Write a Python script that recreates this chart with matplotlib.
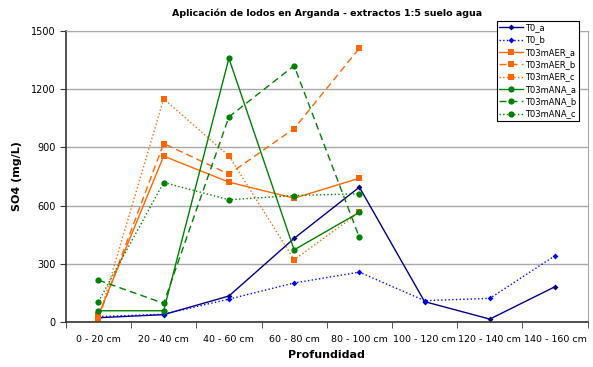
import numpy as np
import matplotlib.pyplot as plt

profundidad = ["0 - 20 cm", "20 - 40 cm", "40 - 60 cm", "60 - 80 cm",
               "80 - 100 cm", "100 - 120 cm", "120 - 140 cm", "140 - 160 cm"]

t0_a = [22, 38, 134, 431, 695, 105, 15, 182]
t0_b = [28, 40, 118, 201, 257, 110, 122, 342]
aer_a = [35, 855, 721, 638, 741]
aer_b = [22, 920, 762, 997, 1411]
aer_c = [15, 1150, 856, 321, 565]
ana_a = [58, 58, 1359, 372, 565]
ana_b = [216, 96, 1057, 1321, 436]
ana_c = [105, 719, 630, 652, 661]

navy = "#000080"
blue = "#0000ff"
orange = "#ff6600"
green = "#008000"

fig = plt.figure(figsize=(5.93, 3.67), dpi=100)
ax = fig.add_axes([0.111, 0.1226, 0.88, 0.793])

x = np.arange(len(profundidad))
x5 = x[:5]

series = [
    (t0_a, x, navy, "-", "D", 3, "T0_a"),
    (t0_b, x, blue, ":", "D", 3, "T0_b"),
    (aer_a, x5, orange, "-", "s", 4.5, "T03mAER_a"),
    (aer_b, x5, orange, (0, (5, 3)), "s", 4.5, "T03mAER_b"),
    (aer_c, x5, orange, ":", "s", 4.5, "T03mAER_c"),
    (ana_a, x5, green, "-", "o", 4.5, "T03mANA_a"),
    (ana_b, x5, green, (0, (5, 3)), "o", 4.5, "T03mANA_b"),
    (ana_c, x5, green, ":", "o", 4.5, "T03mANA_c"),
]
for vals, xs, col, ls, mk, ms, lab in series:
    ax.plot(xs, vals, color=col, linestyle=ls, linewidth=1, marker=mk,
            markersize=ms, markeredgewidth=0, label=lab)

ax.set_xlim(-0.5, 7.5)
ax.set_ylim(0, 1500)
ax.set_yticks(np.arange(0, 1501, 300))
ax.set_xticks(x)
ax.set_xticklabels(profundidad)
ax.set_xticks(np.arange(-0.5, 8, 1), minor=True)
ax.tick_params(axis="x", which="major", length=0, labelsize=6.8, pad=9)
ax.tick_params(axis="x", which="minor", length=4, direction="out", color="#333333")
ax.tick_params(axis="y", labelsize=7, length=4, direction="out", color="#333333")
ax.yaxis.grid(True, color="#a8a8a8", linewidth=1)
ax.set_axisbelow(True)
for s in ["top", "right"]:
    ax.spines[s].set_color("#a8a8a8")
for s in ["left", "bottom"]:
    ax.spines[s].set_color("#333333")
    ax.spines[s].set_linewidth(1.2)

ax.set_title("Aplicación de lodos en Arganda - extractos 1:5 suelo agua",
             fontsize=6.8, fontweight="bold", pad=11)
ax.set_xlabel("Profundidad", fontsize=8, fontweight="bold", labelpad=5)
ax.set_ylabel("SO4 (mg/L)", fontsize=8, fontweight="bold", labelpad=6)

leg = fig.legend(loc="upper right", bbox_to_anchor=(0.983, 0.955), fontsize=6,
                 frameon=True, fancybox=False, edgecolor="black", framealpha=1,
                 handlelength=2.8, labelspacing=0.4, borderpad=0.3, handletextpad=0.3)
leg.get_frame().set_linewidth(0.8)

fig.savefig("out.png", dpi=100)
